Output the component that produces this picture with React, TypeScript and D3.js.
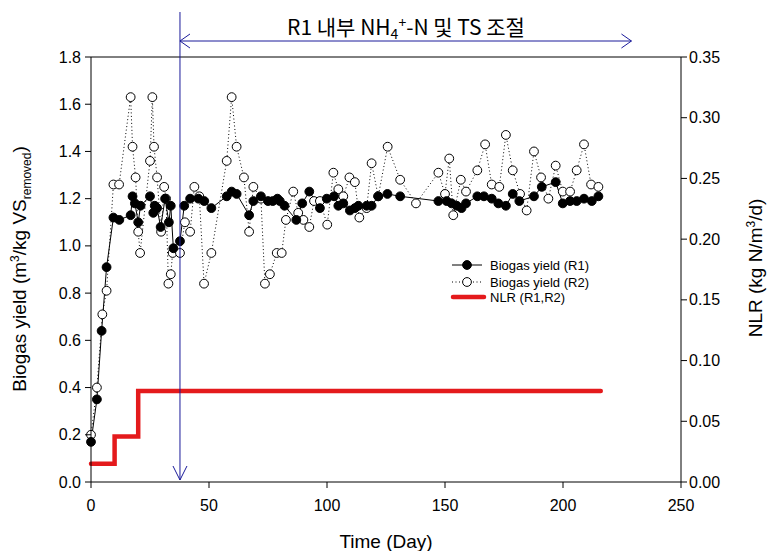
import React from 'react';
import * as d3 from 'd3';

const r1Days = [0, 2.5, 4.5, 6.6, 9.5, 12, 16.8, 17.6, 18.6, 20, 21, 25, 26.4, 27, 28, 29.5, 31.4, 33, 33.8, 34.9, 37.7, 39.5, 42, 45.5, 48, 51, 57.5, 59.6, 61.7, 67, 68.8, 72, 75, 77, 79, 80, 82, 87, 89.5, 92.5, 97, 99.9, 103, 104.8, 106.9, 109.7, 111.8, 113.3, 116.8, 118.9, 121.7, 125.6, 131, 147.2, 150.7, 152.8, 155, 157, 158.9, 163.7, 166.5, 169.8, 172.6, 175.8, 178.7, 181.5, 187.7, 191, 196.9, 199.9, 203, 205.8, 208.9, 212.2, 215];
const r1Yield = [0.17, 0.35, 0.64, 0.91, 1.12, 1.11, 1.13, 1.21, 1.18, 1.10, 1.17, 1.21, 1.14, 1.17, 1.16, 1.08, 1.20, 1.10, 1.17, 0.99, 1.02, 1.17, 1.20, 1.20, 1.19, 1.16, 1.21, 1.23, 1.22, 1.13, 1.19, 1.21, 1.19, 1.19, 1.20, 1.19, 1.17, 1.11, 1.18, 1.23, 1.16, 1.20, 1.21, 1.17, 1.18, 1.15, 1.16, 1.17, 1.17, 1.17, 1.21, 1.22, 1.21, 1.19, 1.19, 1.18, 1.17, 1.16, 1.18, 1.21, 1.21, 1.20, 1.18, 1.17, 1.22, 1.19, 1.21, 1.25, 1.27, 1.18, 1.19, 1.19, 1.20, 1.19, 1.21];

const r2Days = [0, 2.5, 4.8, 6.6, 9.5, 11.9, 16.8, 17.6, 18.9, 20, 20.8, 25, 26, 26.7, 28, 29.7, 31, 31.8, 32.8, 33.8, 34.6, 37.7, 39.8, 42, 43.8, 45.9, 47.9, 51, 57.5, 59.6, 61.7, 64.8, 67, 68.8, 72, 73.7, 75.8, 78.7, 80.8, 82.6, 85.7, 87.8, 90, 92.5, 94.5, 97, 100.1, 102.7, 104.8, 106.9, 109.5, 111.8, 113.7, 116.8, 118.9, 121.7, 125.7, 131, 137.7, 147.2, 150, 151.8, 153.5, 156.7, 158.9, 163.7, 167, 169.8, 173, 175.8, 178.7, 181.8, 184.6, 187.7, 190.7, 193.8, 196.9, 199.9, 203, 205.8, 208.9, 211.9, 215];
const r2Yield = [0.20, 0.40, 0.71, 0.81, 1.26, 1.26, 1.63, 1.42, 1.29, 1.06, 0.97, 1.36, 1.63, 1.42, 1.29, 1.06, 1.25, 1.20, 0.84, 0.88, 0.97, 0.97, 1.10, 1.06, 1.25, 1.21, 0.84, 0.97, 1.36, 1.63, 1.42, 1.29, 1.06, 1.25, 1.20, 0.84, 0.88, 0.97, 0.97, 1.11, 1.23, 1.14, 1.11, 1.08, 1.19, 1.19, 1.09, 1.31, 1.24, 1.21, 1.29, 1.27, 1.12, 1.16, 1.35, 1.21, 1.42, 1.28, 1.18, 1.31, 1.22, 1.37, 1.13, 1.28, 1.23, 1.32, 1.43, 1.26, 1.25, 1.47, 1.32, 1.22, 1.15, 1.40, 1.29, 1.20, 1.34, 1.23, 1.23, 1.32, 1.43, 1.26, 1.25];

const nlrDays = [0, 10, 20, 216];
const nlrValues = [0.015, 0.0375, 0.075, 0.075];

const xTicks = [0, 50, 100, 150, 200, 250];
const yTicks = [0, 0.2, 0.4, 0.6, 0.8, 1.0, 1.2, 1.4, 1.6, 1.8];
const y2Ticks = [0, 0.05, 0.1, 0.15, 0.2, 0.25, 0.3, 0.35];

const phaseStartDay = 37.7;
const phaseEndDay = 229;

const legendLabels = ['Biogas yield (R1)', 'Biogas yield (R2)', 'NLR (R1,R2)'];

const FONT = '"Liberation Sans", Arial, sans-serif';

export default function App() {
  const x = d3.scaleLinear().domain([0, 250]).range([91, 681]);
  const y = d3.scaleLinear().domain([0, 1.8]).range([482, 57]);
  const y2 = d3.scaleLinear().domain([0, 0.35]).range([482, 57]);

  const r1 = r1Days.map((d, i) => [d, r1Yield[i]] as [number, number]);
  const r2 = r2Days.map((d, i) => [d, r2Yield[i]] as [number, number]);
  const nlr = nlrDays.map((d, i) => [d, nlrValues[i]] as [number, number]);

  const line = d3.line<[number, number]>().x(d => x(d[0])).y(d => y(d[1]));
  const nlrLine = d3.line<[number, number]>().x(d => x(d[0])).y(d => y2(d[1])).curve(d3.curveStepAfter);

  const vx = x(phaseStartDay);
  const ex = x(phaseEndDay);
  const ay = 41;

  return (
    <div style={{ position: 'absolute', left: 0, top: 0 }}>
      <svg width={774} height={551} style={{ display: 'block', background: '#fff' }} fontFamily={FONT}>
        <rect x={0} y={0} width={774} height={551} fill="#fff" />
        {/* NLR */}
        <path d={nlrLine(nlr) || ''} fill="none" stroke="#e41a1c" strokeWidth={4.5} strokeLinecap="round" />
        {/* R2 dotted */}
        <path d={line(r2) || ''} fill="none" stroke="#000" strokeWidth={1} strokeDasharray="1,2.5" />
        {/* R1 solid */}
        <path d={line(r1) || ''} fill="none" stroke="#000" strokeWidth={1} />
        {r2.map((d, i) => (
          <circle key={'o' + i} cx={x(d[0])} cy={y(d[1])} r={4.4} fill="#fff" stroke="#000" strokeWidth={1} />
        ))}
        {r1.map((d, i) => (
          <circle key={'f' + i} cx={x(d[0])} cy={y(d[1])} r={4.4} fill="#000" stroke="#000" strokeWidth={1} />
        ))}

        {/* frame */}
        <line x1={91} y1={57} x2={681} y2={57} stroke="#000" strokeWidth={1} />
        <line x1={91} y1={57} x2={91} y2={482} stroke="#000" strokeWidth={1} />
        <line x1={681} y1={57} x2={681} y2={482} stroke="#000" strokeWidth={1} />
        <line x1={91} y1={482} x2={681} y2={482} stroke="#000" strokeWidth={1} />

        {/* left axis */}
        {yTicks.map(t => (
          <g key={'y' + t}>
            <line x1={85} x2={91} y1={y(t)} y2={y(t)} stroke="#000" />
            <text x={81} y={y(t)} dy="0.35em" textAnchor="end" fontSize={16} fill="#000">{d3.format('.1f')(t)}</text>
          </g>
        ))}
        {/* right axis */}
        {y2Ticks.map(t => (
          <g key={'y2' + t}>
            <line x1={681} x2={687} y1={y2(t)} y2={y2(t)} stroke="#000" />
            <text x={689} y={y2(t)} dy="0.35em" textAnchor="start" fontSize={16} fill="#000">{d3.format('.2f')(t)}</text>
          </g>
        ))}
        {/* bottom axis */}
        {xTicks.map(t => (
          <g key={'x' + t}>
            <line x1={x(t)} x2={x(t)} y1={482} y2={488} stroke="#000" />
            <text x={x(t)} y={505} dy="0.35em" textAnchor="middle" fontSize={16} fill="#000">{t}</text>
          </g>
        ))}

        {/* axis titles */}
        <text x={386} y={548} textAnchor="middle" fontSize={19} fill="#000">Time (Day)</text>
        <text transform="translate(26,269) rotate(-90)" textAnchor="middle" fontSize={19} fill="#000">
          Biogas yield (m<tspan dy={-7} fontSize={12}>3</tspan><tspan dy={7}>/kg VS</tspan><tspan dy={5} fontSize={12}>removed</tspan><tspan dy={-5}>)</tspan>
        </text>
        <text transform="translate(762,268) rotate(-90)" textAnchor="middle" fontSize={19} fill="#000">
          NLR (kg N/m<tspan dy={-7} fontSize={12}>3</tspan><tspan dy={7}>/d)</tspan>
        </text>

        {/* phase annotation */}
        <line x1={vx} x2={vx} y1={12} y2={480} stroke="#1a1a9a" strokeWidth={1} />
        <polyline points={`${vx - 7},${466} ${vx},${480} ${vx + 7},${466}`} fill="none" stroke="#1a1a9a" strokeWidth={1} />
        <line x1={vx} x2={ex} y1={ay} y2={ay} stroke="#1a1a9a" strokeWidth={1} />
        <polyline points={`${vx + 10},${ay - 7} ${vx},${ay} ${vx + 10},${ay + 7}`} fill="none" stroke="#1a1a9a" strokeWidth={1} />
        <polyline points={`${ex - 10},${ay - 7} ${ex},${ay} ${ex - 10},${ay + 7}`} fill="none" stroke="#1a1a9a" strokeWidth={1} />
        <text x={406} y={35} textAnchor="middle" fontSize={21} fill="#000" fontFamily='"Noto Sans CJK KR", sans-serif'>
          R1 내부 NH<tspan dy={4} fontSize={14}>4</tspan><tspan dy={-11} fontSize={14}>+</tspan><tspan dy={7}>-N 및 TS 조절</tspan>
        </text>

        {/* legend */}
        <g>
          <line x1={452} x2={482} y1={265} y2={265} stroke="#000" />
          <circle cx={467} cy={265} r={4.4} fill="#000" stroke="#000" />
          <text x={490} y={265} dy="0.35em" fontSize={13} fill="#000">{legendLabels[0]}</text>
          <line x1={452} x2={482} y1={282} y2={282} stroke="#000" strokeDasharray="1,2.5" />
          <circle cx={467} cy={282} r={4.4} fill="#fff" stroke="#000" />
          <text x={490} y={282} dy="0.35em" fontSize={13} fill="#000">{legendLabels[1]}</text>
          <line x1={453} x2={484} y1={297} y2={297} stroke="#e41a1c" strokeWidth={4.5} strokeLinecap="round" />
          <text x={490} y={297} dy="0.35em" fontSize={13} fill="#000">{legendLabels[2]}</text>
        </g>
      </svg>
    </div>
  );
}
